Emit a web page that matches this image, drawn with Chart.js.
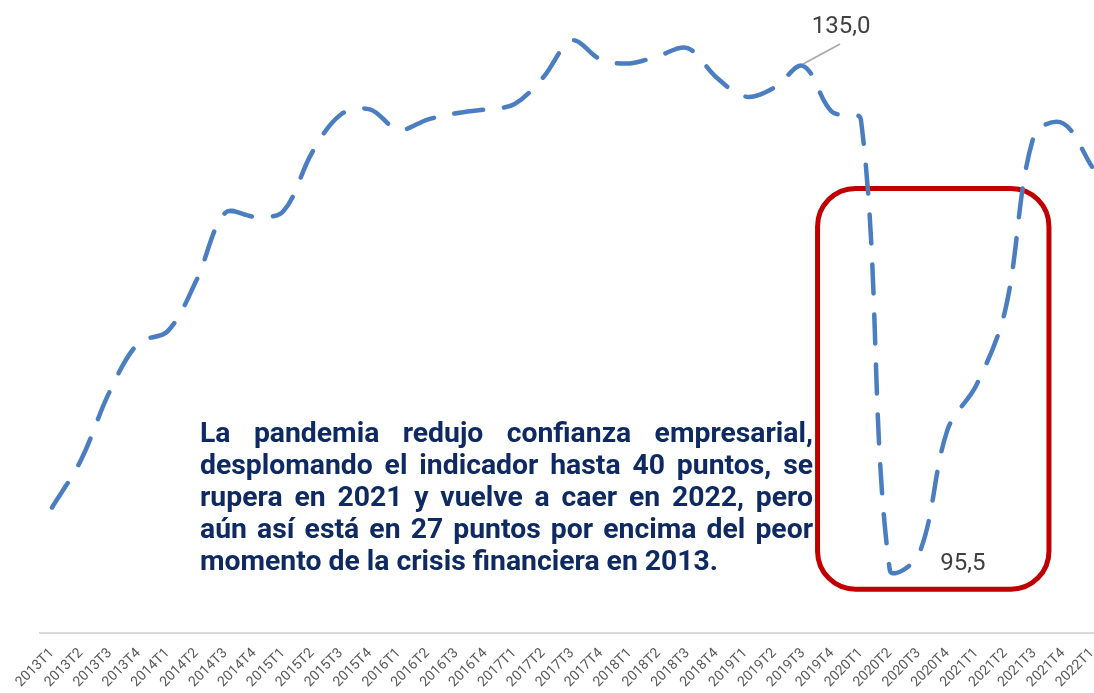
<!DOCTYPE html>
<html lang="es">
<head>
<meta charset="utf-8">
<title>Confianza empresarial</title>
<script src="https://cdn.jsdelivr.net/npm/chart.js@4.4.1/dist/chart.umd.min.js"></script>
<style>
    html, body { margin: 0; padding: 0; background: #fff; }
    .chart-wrap { position: relative; width: 1094px; height: 693px; }
</style>
</head>
<body>
<div class="chart-wrap"><canvas id="confChart"></canvas></div>
<script>
const quarters = [
    '2013T1', '2013T2', '2013T3', '2013T4',
    '2014T1', '2014T2', '2014T3', '2014T4',
    '2015T1', '2015T2', '2015T3', '2015T4',
    '2016T1', '2016T2', '2016T3', '2016T4',
    '2017T1', '2017T2', '2017T3', '2017T4',
    '2018T1', '2018T2', '2018T3', '2018T4',
    '2019T1', '2019T2', '2019T3', '2019T4',
    '2020T1', '2020T2', '2020T3', '2020T4',
    '2021T1', '2021T2', '2021T3', '2021T4',
    '2022T1'
];

const confidence = [
    100.4, 104.1, 109.5, 113.3,
    114.2, 118.2, 123.5, 123.2,
    123.6, 128.2, 131.2, 131.6,
    130.0, 130.8, 131.3, 131.6,
    132.0, 134.1, 137.0, 135.5,
    135.2, 135.8, 136.4, 134.1,
    132.6, 133.3, 135.0, 131.4,
    130.8, 95.5, 96.7, 106.5,
    110.0, 115.9, 129.6, 130.5,
    127.1
];

const noteLines = [
    'La pandemia redujo confianza empresarial,',
    'desplomando el indicador hasta 40 puntos, se',
    'rupera en 2021 y vuelve a caer en 2022, pero',
    'aún así está en 27 puntos por encima del peor',
    'momento de la crisis financiera en 2013.'
];

const peakIdx = 26;   // 2019T3 -> 135,0
const lowIdx = 29;    // 2020T2 -> 95,5

const yWindow = { min: 90.64, max: 140.17 };
// highlight box around the covid drop, in data units
const covidBox = { x0: 26.5, x1: 34.51, yTop: 125.4, yBottom: 94.0 };

const lineBlue = '#4a7ec0';
const boxRed = '#c00000';
const noteColor = '#0f2a62';

function roundRectPath(ctx, x, y, w, h, r) {
    ctx.beginPath();
    ctx.moveTo(x + r, y);
    ctx.lineTo(x + w - r, y);
    ctx.arcTo(x + w, y, x + w, y + r, r);
    ctx.lineTo(x + w, y + h - r);
    ctx.arcTo(x + w, y + h, x + w - r, y + h, r);
    ctx.lineTo(x + r, y + h);
    ctx.arcTo(x, y + h, x, y + h - r, r);
    ctx.lineTo(x, y + r);
    ctx.arcTo(x, y, x + r, y, r);
    ctx.closePath();
}

function drawNote(ctx) {
    const left = 200, right = 813, firstBase = 442, gap = 32, lastWidth = 518;
    ctx.font = 'bold 26px Roboto';
    let size = 26 * lastWidth / ctx.measureText(noteLines[noteLines.length - 1]).width;
    ctx.font = `bold ${size.toFixed(2)}px Roboto`;
    ctx.fillStyle = noteColor;
    ctx.textAlign = 'left';
    ctx.textBaseline = 'alphabetic';
    noteLines.forEach((line, i) => {
        const y = firstBase + i * gap;
        if (i === noteLines.length - 1) {
            ctx.fillText(line, left, y);
            return;
        }
        // justified, like the text box in the original
        const words = line.split(' ');
        const widths = words.map(w => ctx.measureText(w).width);
        const total = widths.reduce((a, b) => a + b, 0);
        const space = (right - left - total) / (words.length - 1);
        let x = left;
        words.forEach((w, k) => {
            ctx.fillText(w, x, y);
            x += widths[k] + space;
        });
    });
}

const decorations = {
    id: 'decorations',
    beforeDatasetsDraw(chart) {
        const { ctx, chartArea, scales } = chart;
        ctx.save();
        // axis line
        ctx.strokeStyle = '#d9d9d9';
        ctx.lineWidth = 2;
        ctx.beginPath();
        ctx.moveTo(chartArea.left - 13, chartArea.bottom + 1);
        ctx.lineTo(chart.width, chartArea.bottom + 1);
        ctx.stroke();
        // red box
        const x0 = scales.x.getPixelForValue(covidBox.x0);
        const x1 = scales.x.getPixelForValue(covidBox.x1);
        const y0 = scales.y.getPixelForValue(covidBox.yTop);
        const y1 = scales.y.getPixelForValue(covidBox.yBottom);
        ctx.strokeStyle = boxRed;
        ctx.lineWidth = 5;
        roundRectPath(ctx, x0, y0, x1 - x0, y1 - y0, 38);
        ctx.stroke();
        ctx.restore();
    },
    afterDraw(chart) {
        const { ctx, scales } = chart;
        ctx.save();
        // 135,0 with leader line
        const px = scales.x.getPixelForValue(peakIdx);
        const py = scales.y.getPixelForValue(confidence[peakIdx]);
        ctx.strokeStyle = '#a6a6a6';
        ctx.lineWidth = 1.5;
        ctx.beginPath();
        ctx.moveTo(px, py - 2);
        ctx.lineTo(px + 37, py - 22);
        ctx.stroke();
        ctx.fillStyle = '#404040';
        ctx.font = '24px Roboto';
        ctx.textAlign = 'center';
        ctx.textBaseline = 'middle';
        ctx.fillText(confidence[peakIdx].toFixed(1).replace('.', ','), px + 38, py - 39);
        // 95,5
        const lx = scales.x.getPixelForValue(lowIdx);
        const ly = scales.y.getPixelForValue(confidence[lowIdx]);
        ctx.fillText(confidence[lowIdx].toFixed(1).replace('.', ','), lx + 73, ly - 6);
        drawNote(ctx);
        ctx.restore();
    }
};

const ctx = document.getElementById('confChart');
new Chart(ctx, {
    type: 'line',
    data: {
        labels: quarters,
        datasets: [{
            label: 'Confianza empresarial',
            data: confidence,
            borderColor: lineBlue,
            borderWidth: 4.5,
            borderDash: [29, 21],
            borderCapStyle: 'round',
            borderJoinStyle: 'round',
            pointRadius: 0,
            tension: 0.35,
            fill: false,
            clip: false,
        }]
    },
    options: {
        responsive: true,
        maintainAspectRatio: false,
        animation: false,
        layout: { padding: { left: 52, right: 2, top: 0, bottom: 0 } },
        elements: { line: { capBezierPoints: false } },
        plugins: { legend: { display: false }, tooltip: { enabled: false } },
        scales: {
            y: { type: 'linear', display: false, min: yWindow.min, max: yWindow.max },
            x: {
                type: 'category',
                offset: false,
                grid: { display: false, drawTicks: false },
                border: { display: false },
                ticks: {
                    autoSkip: false,
                    minRotation: 45,
                    maxRotation: 45,
                    padding: 13,
                    color: '#595959',
                    font: { family: 'Roboto', size: 14 }
                },
                afterFit(scale) {
                    scale.height = 61;
                    scale.paddingLeft = 0;
                    scale.paddingRight = 0;
                }
            }
        }
    },
    plugins: [decorations]
});
</script>
</body>
</html>
